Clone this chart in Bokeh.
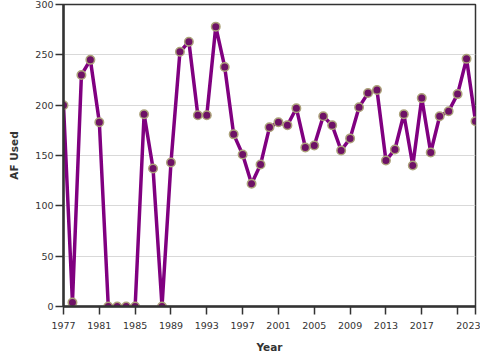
from bokeh.plotting import figure
from bokeh.models import FixedTicker, Range1d
from bokeh.embed import file_html
from bokeh.resources import INLINE

years = list(range(1977, 2024))
af_used = [200, 4, 230, 245, 183, 0, 0, 0, 0, 191, 137, 0, 143, 253, 263, 190, 190,
           278, 238, 171, 151, 122, 141, 178, 183, 180, 197, 158, 160, 189, 180, 155,
           167, 198, 212, 215, 145, 156, 191, 140, 207, 153, 189, 194, 211, 246, 184]
x_ticks = [1977, 1981, 1985, 1989, 1993, 1997, 2001, 2005, 2009, 2013, 2017, 2021, 2023]
y_ticks = [0, 50, 100, 150, 200, 250, 300]

p = figure(width=480, height=360, output_backend="svg", toolbar_location=None,
           x_range=Range1d(1977, 2023), y_range=Range1d(0, 300),
           min_border_top=4, min_border_left=63, min_border_right=5,
           min_border_bottom=54)

p.line(years, af_used, line_color="#800080", line_width=3.5)
p.scatter(years, af_used, size=8.5, fill_color="#6e1266", line_color="#aca27a", line_width=1.5)

p.xaxis.ticker = FixedTicker(ticks=x_ticks)
p.xaxis.major_label_overrides = {2021: ""}
p.yaxis.ticker = FixedTicker(ticks=y_ticks)
p.xaxis.axis_label = "Year"
p.yaxis.axis_label = "AF Used"

for ax in (p.xaxis[0], p.yaxis[0]):
    ax.axis_line_width = 2.5
    ax.axis_line_color = "#333333"
    ax.major_tick_line_color = "#333333"
    ax.major_tick_line_width = 1.5
    ax.major_tick_out = 8
    ax.major_tick_in = 0
    ax.minor_tick_line_color = None
    ax.major_label_text_font = "DejaVu Sans"
    ax.major_label_text_font_size = "9.5px"
    ax.major_label_text_color = "#333333"
    ax.axis_label_text_font = "DejaVu Sans"
    ax.axis_label_text_font_size = "10.5px"
    ax.axis_label_text_font_style = "bold"
    ax.axis_label_text_color = "#333333"

p.xaxis.major_label_standoff = 7
p.xaxis.axis_label_standoff = 9
p.yaxis.major_label_standoff = 2
p.yaxis.axis_label_standoff = 12

p.xgrid.grid_line_color = None
p.ygrid.grid_line_color = "#d9d9d9"
p.ygrid.grid_line_width = 1
p.outline_line_color = "#333333"
p.outline_line_width = 1.5
p.outline_line_alpha = 1

open("out.html", "w").write(file_html(p, INLINE))
